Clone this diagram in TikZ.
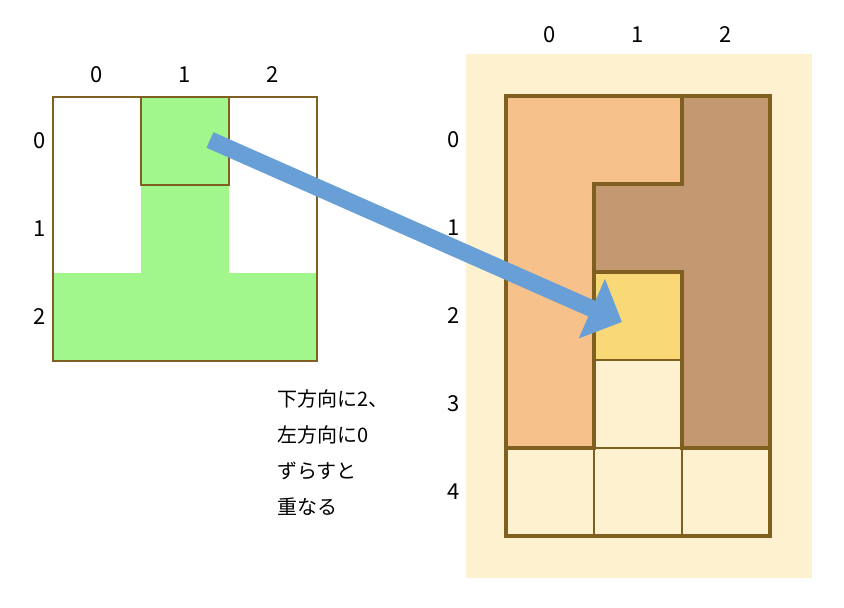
\documentclass[tikz,border=0pt]{standalone}
\usepackage{fontspec}
\setmainfont{Noto Sans CJK JP}
\usetikzlibrary{arrows.meta}
\definecolor{edge}{HTML}{7F6020}
\definecolor{leaf}{HTML}{A2F78C}
\definecolor{peach}{HTML}{F6C18A}
\definecolor{cocoa}{HTML}{C49870}
\definecolor{butter}{HTML}{F9D878}
\definecolor{cream}{HTML}{FDF1D0}
\definecolor{sky}{HTML}{689FD6}
\begin{document}
\begin{tikzpicture}[x=1pt,y=-1pt,
  every node/.style={font=\fontsize{22}{24}\selectfont,inner sep=0},
  thin edge/.style={draw=edge,line width=2pt},
  thick edge/.style={draw=edge,line width=3.5pt,line join=miter}]
        \useasboundingbox (0,0) rectangle (844,608);
        % left board
        \fill[leaf] (141,97) -- (229,97) -- (229,273) -- (317,273) -- (317,361) -- (53,361) -- (53,273) -- (141,273) -- cycle;
        \draw[thin edge] (53,97) rectangle (317,361);
        \draw[thin edge] (141,97) rectangle (229,185);
        \node (lc0) at (97,75) {0};
        \node (lc1) at (185,75) {1};
        \node (lc2) at (273,75) {2};
        \node (lr0) at (40,141) {0};
        \node (lr1) at (40,229) {1};
        \node (lr2) at (40,317) {2};
        % right board
        \fill[cream] (466,54) rectangle (812,578);
        \filldraw[fill=peach,thick edge] (506,96) -- (682,96) -- (682,184) -- (594,184) -- (594,448) -- (506,448) -- cycle;
        \filldraw[fill=cocoa,thick edge] (682,96) -- (770,96) -- (770,448) -- (682,448) -- (682,272) -- (594,272) -- (594,184) -- (682,184) -- cycle;
        \fill[butter] (594,272) rectangle (682,360);
        \draw[thick edge] (594,272) -- (682,272) (594,184) -- (594,448) (682,272) -- (682,448);
        \draw[thin edge] (594,360) -- (682,360) (594,448) -- (682,448) (594,448) -- (594,536) (682,448) -- (682,536);
        \draw[thick edge] (506,96) rectangle (770,536) (506,448) -- (594,448) (682,448) -- (770,448);
        \node (rc0) at (550,35) {0};
        \node (rc1) at (638,35) {1};
        \node (rc2) at (726,35) {2};
        \foreach \i in {0,...,4}
          \node (rr\i) at (454,140+88*\i) {\i};
        % note
        \node[anchor=north west,align=left,font=\fontsize{20}{36}\selectfont] (note) at (277,389)
          {下方向に2、\\左方向に0\\ずらすと\\重なる};
        % shift arrow
        \coordinate (from) at (210,140);
        \coordinate (to) at (622,322);
        \draw[sky,line width=17pt,-{Triangle[length=33pt,width=63pt]}] (from) -- (to);
      \end{tikzpicture}
\end{document}
